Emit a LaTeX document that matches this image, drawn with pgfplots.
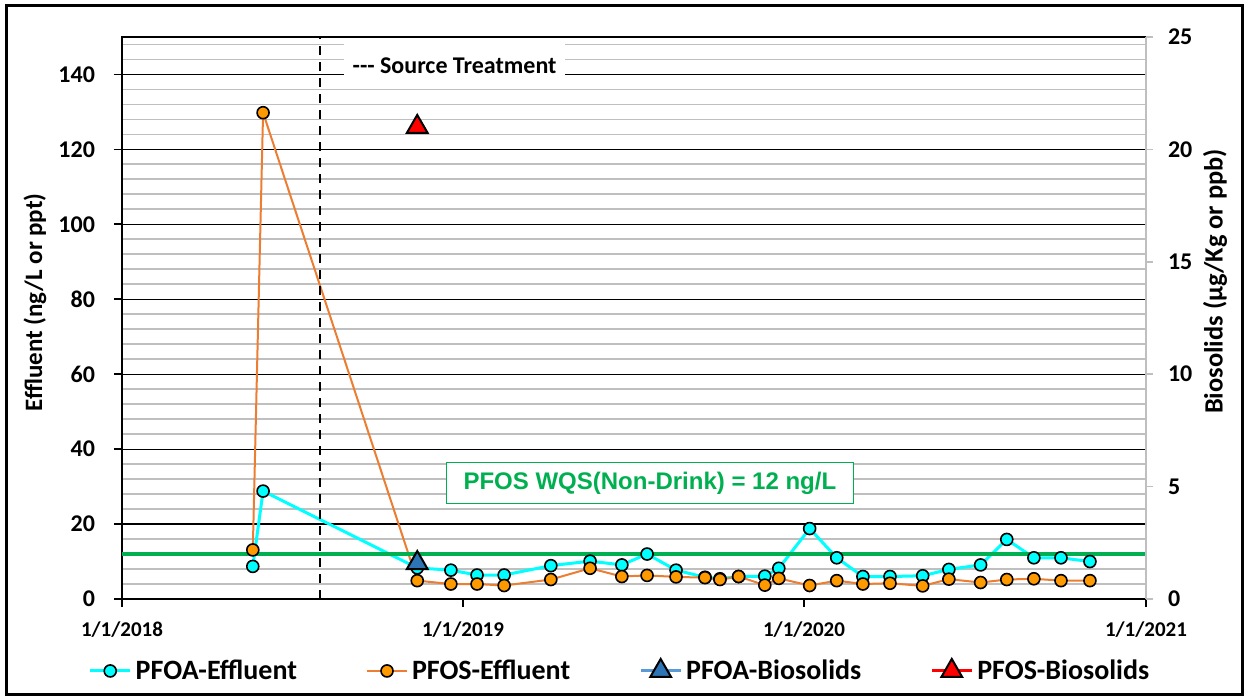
\documentclass[border=0pt]{standalone}
\usepackage{fontspec}
\setmainfont{Carlito}
\newfontfamily\arialfont{Liberation Sans}
\usepackage{pgfplots}
\pgfplotsset{compat=1.18}
\definecolor{cyanL}{HTML}{00FFFF}
\definecolor{orangeL}{HTML}{ED7D31}
\definecolor{orangeF}{HTML}{FF9900}
\definecolor{blueF}{HTML}{2E75B6}
\definecolor{blueL}{HTML}{5B9BD5}
\definecolor{gridG}{HTML}{BFBFBF}
\definecolor{wqs}{HTML}{00B050}
\begin{document}
\begin{tikzpicture}
\pgfplotsset{
  common/.style={
    scale only axis, width=512pt, height=281pt,
    xmin=0, xmax=1096, ymin=0, ymax=150,
    /pgf/number format/assume math mode=true,
    tick align=outside,
  },
  cyanS/.style={cyanL, line width=1.5pt, mark=*, mark size=3pt, mark options={fill=cyanL, draw=black, line width=0.8pt}},
  orangeS/.style={orangeL, line width=1pt, mark=*, mark size=3pt, mark options={fill=orangeF, draw=black, line width=0.8pt}},
}
\begin{axis}[common,
  xtick={0,365,730,1096},
  xticklabels={1/1/2018,1/1/2019,1/1/2020,1/1/2021},
  xtick pos=bottom, ytick pos=left,
  ytick={0,20,...,140},
  minor ytick={4,8,12,16,24,28,32,36,44,48,52,56,64,68,72,76,84,88,92,96,104,108,112,116,124,128,132,136,144,148},
  ymajorgrids, yminorgrids,
  major grid style={black, line width=0.6pt},
  minor grid style={gridG, line width=0.9pt},
  minor tick length=0pt,
  major tick length=4pt,
  axis line style={black, line width=0.9pt},
  tick style={black, line width=0.9pt},
  yticklabel style={font=\bfseries\fontsize{12}{14}\selectfont, xshift=-6pt},
  xticklabel style={font=\bfseries\fontsize{10.5}{12}\selectfont, yshift=-4pt},
  ylabel={Effluent (ng/L or ppt)},
  ylabel style={font=\bfseries\fontsize{12.5}{14}\selectfont, at={(axis description cs:-0.085,0.528)}, anchor=center},
]
\addplot[cyanS] coordinates {
(140,8.7) (151,28.8) (316,8.3) (352,7.7) (380,6.4) (409,6.4) (459,8.9) (501,10.1) (535,9.1) (562,12.0) (593,7.7) (624,5.8) (640,5.4) (660,6.0) (688,6.1) (703,8.2) (736,18.8) (765,11.0) (793,6.0) (822,6.0) (857,6.2) (885,7.9) (919,9.1) (947,15.9) (976,11.0) (1005,11.0) (1036,10.0)
};
\addplot[orangeS] coordinates {
(140,13.1) (151,129.8) (316,4.9) (352,4.0) (380,4.0) (409,3.6) (459,5.2) (501,8.2) (535,6.0) (562,6.3) (593,5.9) (624,5.7) (640,5.2) (660,6.0) (688,3.7) (703,5.5) (736,3.6) (765,4.9) (793,4.0) (822,4.2) (857,3.5) (885,5.3) (919,4.4) (947,5.2) (976,5.4) (1005,4.9) (1036,4.9)
};
\addplot[wqs, line width=1.6pt, mark=none] coordinates {(0,12) (1096,12)};
\draw[black, line width=1.1pt, dash pattern=on 4.5pt off 3.5pt] (axis cs:212,0) -- (axis cs:212,150);
\node[fill=white, minimum width=110.5pt, minimum height=22pt, inner sep=0pt, font=\bfseries\fontsize{12}{14}\selectfont] at (axis cs:356,142.4) {-{}-{}- Source Treatment};
\node[draw=wqs, line width=0.7pt, fill=white, minimum width=203.5pt, minimum height=20.5pt, inner sep=0pt, text=wqs, font=\arialfont\bfseries\fontsize{12}{14}\selectfont] at (axis cs:565,30.9) {PFOS WQS(Non-Drink) = 12 ng/L};
\end{axis}
\begin{axis}[common,
  ymax=25,
  axis x line=none, axis y line*=right,
  ytick={0,5,...,25},
  y axis line style={gridG, line width=1.2pt},
  ytick style={gridG, line width=0.8pt},
  major tick length=3.5pt,
  yticklabel style={font=\bfseries\fontsize{12}{14}\selectfont, xshift=4pt},
  ylabel={Biosolids (µg/Kg or ppb)},
  ylabel style={font=\bfseries\fontsize{13.2}{15}\selectfont, at={(axis description cs:1.0674,0.565)}, anchor=center},
  legend style={at={(axis description cs:0.4873,-0.128)}, anchor=center, draw=none, fill=none, legend columns=4,
    font=\bfseries\fontsize{14}{16}\selectfont, /tikz/every even column/.append style={column sep=32.5pt}},
  legend image code/.code={\draw[mark repeat=2,mark phase=2,#1] plot coordinates {(0pt,0pt) (10pt,0pt) (20pt,0pt)};},
]
\addlegendimage{cyanS}
\addlegendentry{PFOA-Effluent}
\addlegendimage{orangeS}
\addlegendentry{PFOS-Effluent}
\addplot[blueL, line width=1.5pt, mark=triangle*, mark size=6pt, mark options={fill=blueF, draw=black, line width=1pt}] coordinates {(316,1.6)};
\addlegendentry{PFOA-Biosolids}
\addplot[red, line width=1.5pt, mark=triangle*, mark size=6pt, mark options={fill=red, draw=black, line width=1pt}] coordinates {(316,21.0)};
\addlegendentry{PFOS-Biosolids}
\end{axis}
\draw[line width=1.5pt] (-57.5pt,-47.5pt) rectangle (560pt,297pt);
\path (-61pt,-49.5pt) rectangle (563.5pt,299.5pt);
\end{tikzpicture}
\end{document}
